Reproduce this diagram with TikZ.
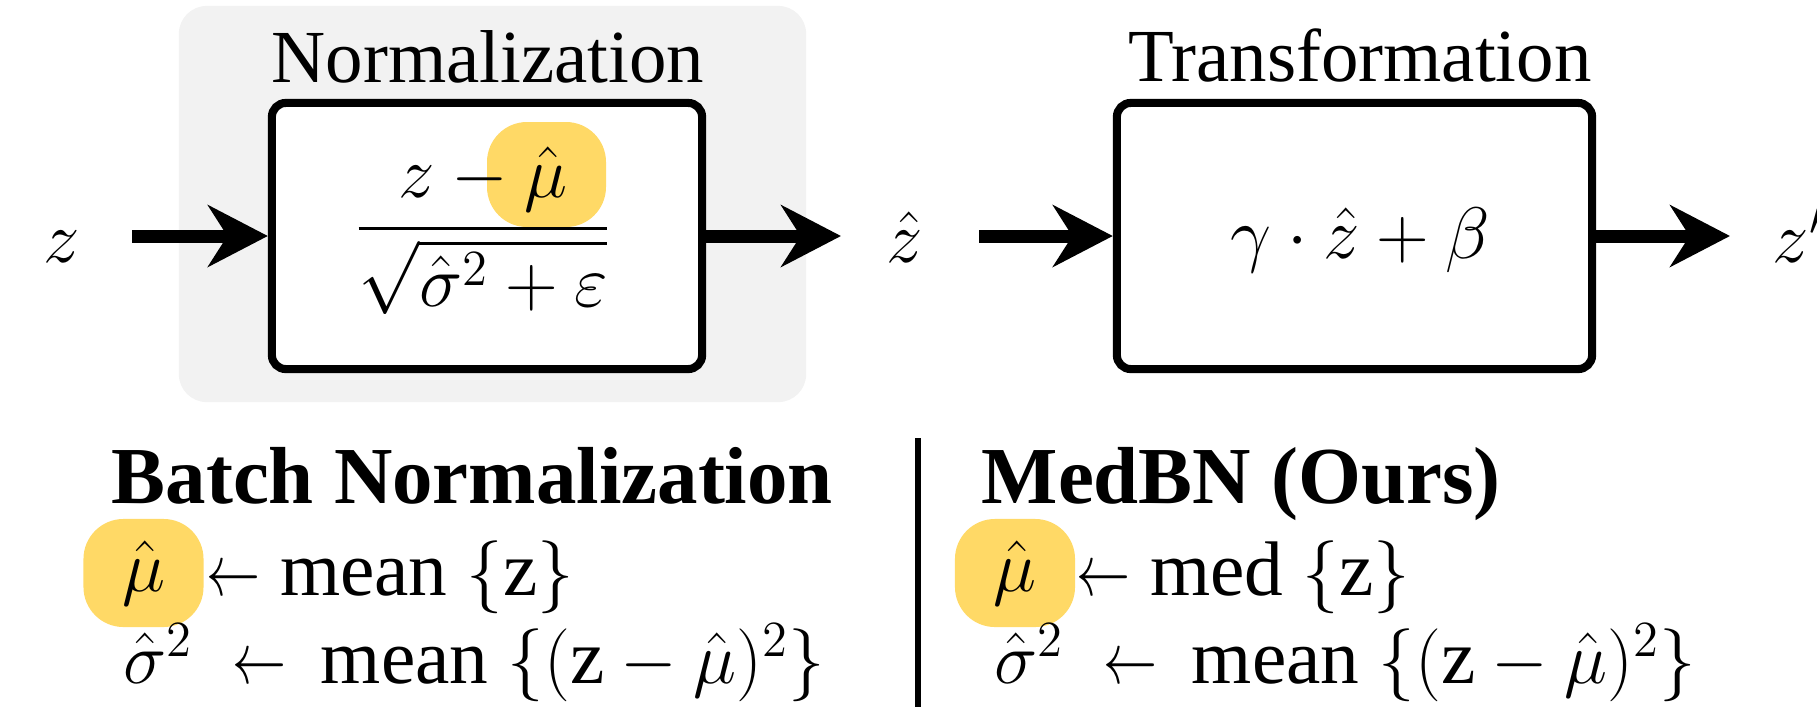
\documentclass[tikz,border=0pt]{standalone}
\usepackage{amsmath}
\usepackage{fontspec}
\setmainfont{Liberation Serif}
\usetikzlibrary{arrows.meta}
\definecolor{hlyellow}{HTML}{FFD966}
\definecolor{panelgray}{HTML}{F2F2F2}
\newcommand{\bigtext}{\fontsize{22}{26}\selectfont}
\newcommand{\titletext}{\fontsize{21.3}{26}\selectfont}
\newcommand{\headtext}{\fontsize{23}{27}\selectfont\bfseries}
% a shorter assignment arrow
\newcommand{\getsarrow}{\scalebox{0.74}[1]{$\leftarrow$}}
\begin{document}
\begin{tikzpicture}[x=0.01cm,y=-0.01cm,
  every node/.style={inner sep=0pt, font=\bigtext},
  block/.style={draw, fill=white, line width=2.3pt, rounded corners=0.14cm,
    minimum height=2.66cm},
  flow/.style={line width=3.7pt,
    -{Stealth[length=17pt,width=17.5pt,inset=5.5pt]}},
  hlbox/.style={fill=hlyellow, rounded corners=0.4cm,
    minimum width=1.2cm, minimum height=1.08cm},
  heading/.style={anchor=base west, font=\headtext},
  blocktitle/.style={anchor=base, font=\titletext},
  eqline/.style={anchor=base west}
]
\useasboundingbox (0,0) rectangle (1817,711);

% shaded panel around the normalization step
\node[fill=panelgray, rounded corners=0.28cm, minimum width=6.27cm,
  minimum height=3.96cm] (panel) at (492.5,204) {};

% processing blocks
\node[block, minimum width=4.30cm] (norm) at (487,236) {};
\node[block, minimum width=4.75cm] (trans) at (1354.5,236) {};

\node[blocktitle] (normtitle) at (488,82) {Normalization};
\node[blocktitle] (transtitle) at (1360,81) {Transformation};

% normalization formula with the highlighted mean
\fill[hlyellow, rounded corners=0.4cm] (487,122) rectangle (606,227);
\node (frac) at (483,231) {$\dfrac{z-\hat{\mu}}{\sqrt{\hat{\sigma}^2+\varepsilon}}$};
\node[anchor=base] (affine) at (1360,258) {$\gamma\cdot\hat{z}+\beta$};

% signals
\node[anchor=base] (zin) at (62,262) {$z$};
\node[anchor=base] (zhat) at (905,262) {$\hat{z}$};
\node[anchor=base west] (zout) at (1772,262) {$z'$};

\coordinate (a1s) at (132,236);
\coordinate (a2e) at (841,236);
\coordinate (a3s) at (979,236);
\coordinate (a4e) at (1730,236);
\draw[flow] (a1s) -- (norm.west);
\draw[flow] (norm.east) -- (a2e);
\draw[flow] (a3s) -- (trans.west);
\draw[flow] (trans.east) -- (a4e);

% comparison of the two estimators
\coordinate (sept) at (918,438);
\coordinate (sepb) at (918,707);
\draw[line width=1.7pt] (sept) -- (sepb);

\node[heading] (bnhead) at (111,503) {Batch Normalization};
\node[hlbox] (bnmu) at (143.5,573) {$\hat{\mu}$};
\node[eqline] (bnmean) at (206,595) {\getsarrow\ mean $\{\mathrm{z}\}$};
\node[eqline] (bnvar) at (123,683) {$\hat{\sigma}^2$\hspace{0.5em}\getsarrow\hspace{0.45em}mean $\{(\mathrm{z}-\hat{\mu})^2\}$};

\node[heading] (mbhead) at (981,503) {MedBN (Ours)};
\node[hlbox] (mbmu) at (1015,573) {$\hat{\mu}$};
\node[eqline] (mbmed) at (1076,595) {\getsarrow\ med $\{\mathrm{z}\}$};
\node[eqline] (mbvar) at (994,683) {$\hat{\sigma}^2$\hspace{0.5em}\getsarrow\hspace{0.45em}mean $\{(\mathrm{z}-\hat{\mu})^2\}$};
\end{tikzpicture}
\end{document}
